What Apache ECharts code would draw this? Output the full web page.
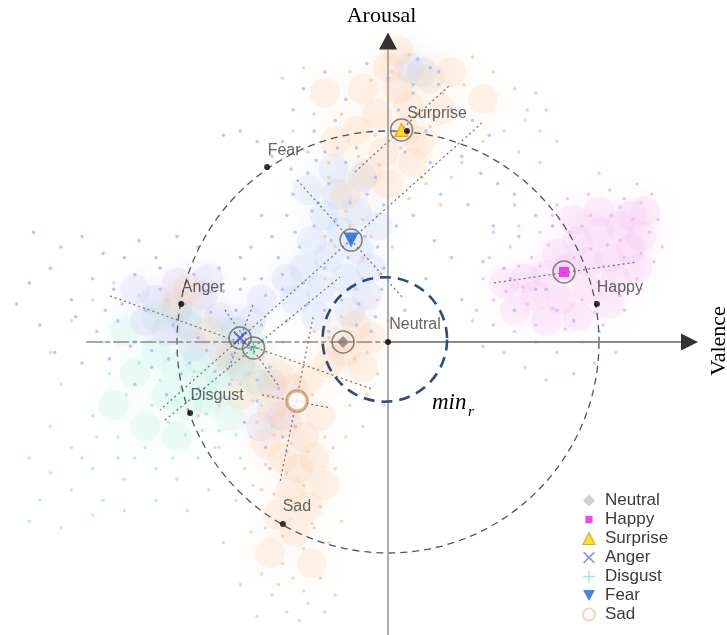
<!DOCTYPE html>
<html><head><meta charset="utf-8">
<script src="https://cdn.jsdelivr.net/npm/echarts@6/dist/echarts.min.js"></script>
<style>html,body{margin:0;padding:0;background:#fff}#c{width:727px;height:635px}</style>
</head><body><div id="c"></div>
<script>
// ================= DATA (valence, arousal); reference circle radius = 100 =================
const emotionNames = ['Neutral','Happy','Surprise','Anger','Disgust','Fear','Sad'];
const centroidPoints = [[-21.3,0],[83.4,33.2],[6.4,100.5],[-70.1,1.9],[-63.7,-2.8],[-17.5,48.3],[-43.1,-28]];
const anchorPoints = [[0,0],[99,18],[9,100],[-98,18],[-93.8,-33.6],[-57.3,82.9],[-49.8,-86.3]];
const circleRadius = 100;
const minRadius = 29.5;
const minCenter = [-1.5,1.2];
// principal directions of each cluster (segment end points)
const clusterAxes = [
  [[-15.6,80.6],[29.4,121.8]],
  [[44.5,103.8],[-108,-32.2]],
  [[-43.1,76.8],[7,21]],
  [[50.2,28],[118,37.9]],
  [[-131.8,21.8],[-7.6,-22.3]],
  [[-64,17.5],[-75.8,-13.3]],
  [[-105.7,-37],[-22.7,30.8]],
  [[-77.3,15.2],[-52.1,-20.4]],
  [[-35.5,11.8],[-51.2,-66.4]],
  [[-59.7,-25.1],[-27,-31.3]]
];
// sample clouds (core = dense area, cloud = individual samples)
const fearCore = [[-30,60],[-22,52],[-14,44],[-28,40],[-36,48],[-20,30],[-10,22],[-32,25],[-40,35],[-24,70],[-15,62],[-8,35],[-44,20],[-34,12],[-18,14],[-5,55],[-26,82],[-38,72],[-12,78],[10,130],[16,128],[-48,30]];
const fearCloud = [[-40,120],[-30,128],[-20,115],[-10,132],[0,125],[12,118],[24,122],[30,110],[40,105],[48,98],[-45,110],[-35,100],[-25,105],[5,110],[18,100],[-50,95],[-55,88],[-62,95],[-70,100],[-78,98],[-30,90],[-15,92],[8,90],[20,85],[35,88],[44,80],[52,75],[60,70],[70,60],[78,55],[25,70],[38,65],[50,55],[62,50],[12,60],[22,48],[30,40],[45,38],[58,30],[70,25],[80,15],[18,30],[35,20],[8,15],[-45,70],[-38,80],[-28,75],[-20,85],[-10,70],[-2,65],[-5,45],[-25,58],[-35,55],[-42,45],[-48,60],[-55,50],[-52,40],[-30,35],[-12,30],[-3,25],[-22,20],[-38,18],[-48,10],[-15,8],[-28,5],[-8,5],[60,15],[75,25],[55,35],[88,10],[100,5],
  [-33,66],[-27,48],[-19,40],[-11,50],[-40,28],[-30,15],[-14,18],[-6,12],[-36,62],[-44,52],[-50,32],[-58,22],[-18,66],[-6,78],[-24,92],[-34,86],[-46,82],[-2,35],[4,55],[-60,60],[-65,45],[12,122],[20,130],[14,134],[24,128]];
const angerCore = [[-110,20],[-100,15],[-95,8],[-88,22],[-80,12],[-72,5],[-105,5],[-92,-2],[-78,-5],[-115,10],[-85,30],[-65,10],[-70,-12],[-60,20],[-100,28],[-120,25],[-55,-20],[-50,-35],[-60,-40]];
const angerCloud = [[-130,25],[-140,30],[-150,20],[-160,35],[-170,28],[-155,45],[-145,50],[-135,42],[-125,40],[-118,48],[-110,40],[-128,10],[-138,5],[-148,12],[-165,8],[-158,-5],[-145,-10],[-132,-8],[-122,-2],[-112,-12],[-98,-15],[-120,-20],[-105,-25],[-90,-22],[-75,-20],[-62,-28],[-58,-50],[-50,-45],[-45,-30],[-68,-38],[-80,35],[-70,40],[-90,45],[-100,50],[-60,30],[-50,25],[-70,25],[-176,18],[-168,52],
  [-115,15],[-108,25],[-102,8],[-96,18],[-90,2],[-84,14],[-78,24],[-72,15],[-66,-2],[-60,8],[-112,-4],[-104,-8],[-94,-10],[-86,-4],[-82,-14],[-74,-6],[-68,30],[-92,32],[-108,35],[-120,32],[-126,18],[-134,15],[-56,-12],[-52,-22],[-62,-18],[-48,-52],[-56,-60],[-44,-40]];
const surpriseCore = [[0,130],[5,120],[10,112],[-5,108],[8,100],[15,95],[-2,90],[12,85],[20,125],[25,110],[-12,120],[-15,100],[-10,80],[0,75],[-20,70],[30,128],[45,115],[-30,118],[5,138],[-25,95]];
const surpriseCloud = [[40,135],[50,128],[60,120],[70,118],[75,110],[65,105],[55,100],[80,95],[72,85],[62,90],[45,95],[35,85],[30,78],[66,110],[72,100],[-40,130],[-50,125],[-35,108],[-45,100],[-28,85],[-38,90],[18,75],[25,65],[10,68],[-5,60],[-18,55],[-8,50],[2,45],[-12,40],[-25,45],[-30,30],[-15,25],[-5,20],[-22,12],[-35,5],[0,10],
  [2,128],[-8,124],[14,108],[-6,98],[20,102],[6,92],[-14,88],[-4,84],[16,78],[-22,108],[-18,128],[26,118],[36,122],[10,136],[-28,78],[-20,62],[-12,58],[-30,50],[-4,32]];
const sadCore = [[-60,-20],[-52,-15],[-45,-22],[-38,-18],[-55,-32],[-48,-38],[-40,-45],[-32,-35],[-58,-48],[-50,-55],[-42,-60],[-35,-55],[-46,-70],[-38,-78],[-52,-82],[-30,-68],[-28,-10],[-20,-5],[-15,8],[-25,0],[-12,-12],[-8,2],[-65,-5],[-75,-8],[-85,5],[-100,18],[-95,25],[-70,-25],[-44,-90],[-56,-100],[-36,-105]];
const sadCloud = [[-68,-60],[-72,-75],[-65,-90],[-60,-110],[-55,-120],[-48,-128],[-40,-118],[-32,-112],[-28,-95],[-22,-85],[-25,-60],[-20,-45],[-18,-30],[-10,-25],[-5,-15],[-2,-30],[-12,-40],[-78,-95],[-70,-115],[-62,-130],[-42,-132],[-30,-128],[-82,-50],[-90,-35],[-80,-30],[-35,-88],[-60,-70],[-50,-105],[-45,-112],[-25,-120],
  [-56,-25],[-48,-28],[-42,-32],[-36,-25],[-62,-38],[-54,-44],[-46,-48],[-38,-52],[-30,-45],[-58,-58],[-48,-62],[-40,-68],[-54,-72],[-44,-80],[-36,-86],[-50,-92],[-40,-98],[-58,-88],[-32,-78],[-26,-50],[-22,-20],[-16,-8],[-28,2],[-10,-5],[-66,-15],[-74,-18],[-64,-68],[-52,-115],[-38,-124]];
const disgustCore = [[-110,-5],[-100,-12],[-90,-8],[-80,-15],[-70,-10],[-62,-18],[-105,-25],[-95,-30],[-85,-28],[-75,-35],[-115,-40],[-100,-45],[-88,-20],[-65,0],[-120,-15],[-130,-30],[-125,5],[-75,5],[-110,12],[-95,10]];
const disgustCloud = [[-170,-55],[-160,-40],[-150,-50],[-140,-60],[-165,-75],[-150,-70],[-135,-75],[-125,-65],[-120,-55],[-110,-60],[-100,-65],[-90,-55],[-80,-50],[-70,-55],[-110,-75],[-95,-80],[-85,-70],[-140,-35],[-155,-20],[-145,-10],[-135,0],[-160,-5],[-150,10],[-140,20],[-130,28],[-118,22],[-60,-30],[-55,-40],[-65,-45],[-170,-85],[-155,-88],[-128,-45],[-105,20],[-50,0],[-58,12],
  [-118,-10],[-108,-18],[-98,-22],[-92,-14],[-86,-34],[-78,-26],[-70,-20],[-64,-28],[-112,-30],[-104,-38],[-96,-44],[-88,-42],[-80,-42],[-124,-25],[-132,-15],[-138,-45],[-145,-55],[-128,-55],[-115,-50],[-102,-55],[-72,-44],[-66,-8],[-58,-5],[-120,0],[-98,0],[-82,0],[-140,-82],[-125,-80],[-160,-62]];
const happyCore = [[55,28],[65,30],[75,32],[85,35],[95,38],[105,40],[115,44],[120,50],[110,55],[100,52],[90,48],[80,42],[70,22],[82,20],[95,25],[108,30],[118,35],[60,15],[75,10],[90,12],[105,18],[115,60],[122,62],[100,62],[88,58]];
const happyCloud = [[45,30],[50,20],[42,15],[48,40],[58,45],[62,55],[72,52],[78,60],[85,68],[95,70],[105,72],[112,68],[125,70],[128,58],[130,45],[126,38],[120,25],[112,15],[102,8],[92,0],[80,-5],[70,0],[60,5],[50,8],[65,-12],[75,-18],[88,-15],[98,-10],[108,-5],[55,-5],[45,-2],[40,10],[68,40],[92,55],[110,48],[80,65],[100,80],[118,75],[60,65],[50,52],
  [56,24],[64,26],[72,36],[80,30],[88,40],[96,44],[104,46],[112,40],[120,42],[124,52],[116,58],[106,60],[96,60],[86,52],[76,46],[66,18],[78,16],[92,20],[100,28],[110,22],[118,30],[62,36],[70,8],[84,6],[98,14],[120,66],[110,64],[102,36]];

// ================= LAYOUT / STYLE =================
const PX = 2.11; // pixels per unit
const CX = 388, CY = 342, W = 727, H = 635;
const SANS = "'Liberation Sans', Arial, sans-serif";
const SERIF = "'Liberation Serif', 'Times New Roman', serif";
const xPosAxis = [[0,0],[139,0]], xNegAxis = [[-143,0],[0,0]], yAxisLine = [[0,-139],[0,138.6]];
const arrowX = [142.9,0], arrowY = [0,142.7];
const labelOffsets = [[27,-17],[23,-16],[30,-17],[22,-16],[27,-17],[17,-16],[14,-17]];
const X_PATH = 'path://M1,0 L5,4 L9,0 L10,1 L6,5 L10,9 L9,10 L5,6 L1,10 L0,9 L4,5 L0,1 Z';
const PLUS_PATH = 'path://M4.4,0 H5.6 V4.4 H10 V5.6 H5.6 V10 H4.4 V5.6 H0 V4.4 H4.4 Z';
const DOWN_TRI = 'path://M0,0 L10,0 L5,9 Z';
const SMALL_SQ = 'path://M0,0 M10,10 M2,2 H8 V8 H2 Z';
const markerStyle = {
  Neutral: {symbol:'diamond', size:12, color:'#7d7d7d', legendColor:'#c4c4c4', legendIcon:'diamond'},
  Happy: {symbol:'rect', size:10, color:'#ea16ea', legendIcon:SMALL_SQ},
  Surprise: {symbol:'triangle', size:13, color:'#f7d900', border:'#e69a00', legendIcon:'triangle'},
  Anger: {symbol:X_PATH, size:14, color:'#4646d8', legendColor:'#7c78ee', legendIcon:X_PATH},
  Disgust: {symbol:PLUS_PATH, size:13, color:'#3cc79a', legendColor:'#7fe3c4', legendIcon:PLUS_PATH},
  Fear: {symbol:DOWN_TRI, size:15, color:'#1a68d4', legendIcon:DOWN_TRI},
  Sad: {symbol:'emptyCircle', size:19, color:'#d9a673', legendColor:'#f2cba6', legendIcon:'emptyCircle'}
};

function cloud(name, pts, color, size, opacity, blur, z) {
  return {type:'scatter', name, data:pts, symbolSize:size, silent:true, z, animation:false,
    itemStyle:{color, opacity, shadowBlur:blur, shadowColor:color}};
}
function seg(pts, color, width, type, z) {
  return {type:'line', data:pts, symbol:'none', silent:true, z, animation:false,
    lineStyle:{color, width, type}};
}
function circleSeries(center, r, color, width, dash, z) {
  return {type:'custom', silent:true, z, animation:false, data:[[center[0],center[1],r]],
    renderItem(params, api) {
      const c = api.coord([api.value(0), api.value(1)]);
      const rr = api.size([api.value(2), 0])[0];
      return {type:'circle', shape:{cx:c[0], cy:c[1], r:rr},
        style:{fill:'none', stroke:color, lineWidth:width, lineDash:dash}};
    }};
}

const series = [];
// clouds: soft haze for dense areas, then individual samples
series.push(cloud('fearCoreS', fearCore, '#a9bef4', 30, 0.14, 24, 1));
series.push(cloud('angerCoreS', angerCore, '#b8b2f2', 30, 0.14, 24, 1));
series.push(cloud('surpriseCoreS', surpriseCore, '#f9cba3', 30, 0.2, 24, 1));
series.push(cloud('sadCoreS', sadCore, '#f9cfac', 30, 0.2, 24, 1));
series.push(cloud('disgustCoreS', disgustCore, '#b3f0dd', 30, 0.18, 24, 1));
series.push(cloud('happyCoreS', happyCore, '#f6bdef', 30, 0.2, 24, 1));
series.push(cloud('fearCloudS', fearCloud, '#a3b9f3', 3.6, 0.75, 0, 2));
series.push(cloud('angerCloudS', angerCloud, '#b3adf1', 3.6, 0.75, 0, 2));
series.push(cloud('surpriseCloudS', surpriseCloud, '#f7c49a', 3.6, 0.75, 0, 2));
series.push(cloud('sadCloudS', sadCloud, '#f6c8a3', 3.6, 0.75, 0, 2));
series.push(cloud('disgustCloudS', disgustCloud, '#a6ebd6', 3.6, 0.75, 0, 2));
series.push(cloud('happyCloudS', happyCloud, '#f3b0ec', 3.6, 0.75, 0, 2));
// cluster axes
clusterAxes.forEach(s => series.push(seg(s, '#6e6e6e', 1.2, [2,3], 4)));
// circles
series.push(circleSeries([0,0], circleRadius, '#555', 1.3, [7,5], 5));
series.push(circleSeries(minCenter, minRadius, '#2b4d7c', 2.6, [11,7], 6));
// axes
series.push(seg(xNegAxis, '#8a8a8a', 1.6, [16,3,5,3], 5));
series.push(seg(xPosAxis, '#8a8a8a', 2, 'solid', 5));
series.push(seg(yAxisLine, '#9a9a9a', 1.6, 'solid', 5));
series.push({type:'scatter', data:[arrowX], symbol:'triangle', symbolRotate:-90, symbolSize:[17,17], silent:true, z:6, itemStyle:{color:'#000'}, animation:false});
series.push({type:'scatter', data:[arrowY], symbol:'triangle', symbolSize:[18,17], silent:true, z:6, itemStyle:{color:'#000'}, animation:false});
// rings
series.push({type:'scatter', data:centroidPoints.map((p,i)=>({value:p, itemStyle:{borderColor: emotionNames[i]==='Sad' ? '#b98a62' : '#666'}})),
  symbol:'circle', symbolSize:22, silent:true, z:9, animation:false,
  itemStyle:{color:'rgba(255,255,255,0)', borderColor:'#666', borderWidth:1.5}});
// centroid markers (legend series)
emotionNames.forEach((n,i) => {
  const m = markerStyle[n];
  series.push({type:'scatter', name:n, data:[centroidPoints[i]], symbol:m.symbol, symbolSize:m.size, z:10, animation:false,
    itemStyle:{color:m.color, borderColor:m.border || m.color, borderWidth:m.border ? 1.2 : (m.symbol==='emptyCircle'?1.5:0)}});
});
// anchors on circle with labels
series.push({type:'scatter', data:anchorPoints.map((p,i)=>({name:emotionNames[i], value:p,
    label:{offset:labelOffsets[i]}})),
  symbolSize:6, z:11, silent:true, animation:false, itemStyle:{color:'#000'},
  label:{show:true, position:'inside', formatter:'{b}', align:'center', verticalAlign:'middle',
    fontFamily:SANS, fontSize:16, color:'#3c3c3c'}});

const chart = echarts.init(document.getElementById('c'), null, {renderer:'canvas'});
chart.setOption({
  backgroundColor:'#fff',
  animation:false,
  grid:{left:0, right:0, top:0, bottom:0},
  xAxis:{type:'value', min:-CX/PX, max:(W-CX)/PX, show:false},
  yAxis:{type:'value', min:-(H-CY)/PX, max:CY/PX, show:false},
  legend:{orient:'vertical', left:577, top:487, itemWidth:12, itemHeight:12, itemGap:2,
    selectedMode:false,
    textStyle:{fontFamily:SANS, fontSize:17, color:'#3a3a3a', lineHeight:17, padding:[0,0,0,5]},
    data:emotionNames.map(n => {
      const m = markerStyle[n];
      return {name:n, icon:m.legendIcon, itemStyle:{color:m.legendColor || m.color, borderColor:m.border || (m.legendColor || m.color), borderWidth:m.border?1.2:(m.legendIcon==='emptyCircle'?1.5:0)}};
    })},
  graphic:[
    {type:'text', x:381.5, y:16, style:{text:'Arousal', font:'22px ' + SERIF, fill:'#000', align:'center', verticalAlign:'middle'}},
    {type:'text', x:719, y:341, rotation:Math.PI/2, style:{text:'Valence', font:'22px ' + SERIF, fill:'#000', align:'center', verticalAlign:'middle'}},
    {type:'text', x:432, y:403, style:{text:'min', font:'italic 23px ' + SERIF, fill:'#000', align:'left', verticalAlign:'middle'}},
    {type:'text', x:468, y:412, style:{text:'r', font:'italic 15px ' + SERIF, fill:'#000', align:'left', verticalAlign:'middle'}}
  ],
  series
});
</script></body></html>
